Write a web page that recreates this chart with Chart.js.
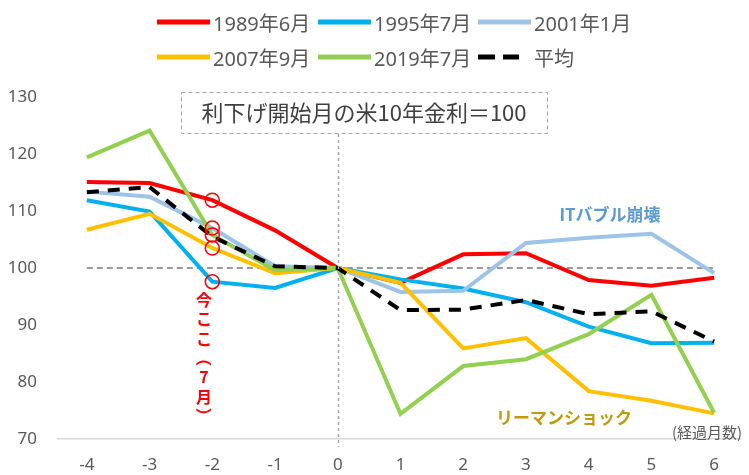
<!DOCTYPE html>
<html>
<head>
<meta charset="utf-8">
<script src="https://cdn.jsdelivr.net/npm/chart.js@4"></script>
<style>
  body { margin: 0; background: #fff; }
  #wrap { position: relative; width: 749px; height: 475px; overflow: hidden; }
  #chart { position: absolute; left: 0; top: 0; }
  #legend { position: absolute; left: 0; top: 0; width: 749px; height: 80px;
    font-family: "Noto Sans", "Noto Sans CJK JP", sans-serif; font-size: 20px; color: #595959; }
  .item { position: absolute; display: flex; align-items: center; height: 26px; white-space: nowrap; }
  .item svg { margin-right: 3px; }
</style>
</head>
<body>
<div id="wrap">
  <canvas id="chart" width="749" height="475"></canvas>
  <div id="legend"></div>
</div>
<script>
// months from the start of rate cuts
let months = [-4, -3, -2, -1, 0, 1, 2, 3, 4, 5, 6];
let xLabels = [-4, -3, -2, -1, 0, 1, 2, 3, 4, 5, 6];
let yLabels = [70, 80, 90, 100, 110, 120, 130];

let s1989 = [115.1, 114.9, 111.9, 106.6, 100, 97.4, 102.4, 102.6, 97.9, 96.9, 98.3];
let s1995 = [111.9, 109.9, 97.6, 96.5, 100, 98.0, 96.4, 94.0, 89.7, 86.8, 86.9];
let s2001 = [113.4, 112.5, 107.0, 100.3, 100, 95.8, 96.0, 104.4, 105.3, 106.0, 99.1];
let s2007 = [106.7, 109.5, 103.5, 99.1, 100, 97.4, 85.9, 87.7, 78.4, 76.7, 74.5];
let s2019 = [119.4, 124.1, 105.8, 99.6, 100, 74.4, 82.8, 84.0, 88.4, 95.3, 74.6];
let avg = [113.3, 114.2, 105.5, 100.3, 100, 92.6, 92.7, 94.4, 91.9, 92.4, 87.1];

let seriesNames = ["1989年6月", "1995年7月", "2001年1月", "2007年9月", "2019年7月", "平均"];
let seriesColors = ["#ff0000", "#00b0f0", "#9dc3e6", "#ffc000", "#92d050", "#000000"];
let seriesData = [s1989, s1995, s2001, s2007, s2019, avg];

// "now" marker month and which series get a circle
let nowMonth = -2;
let circled = [s1989, s1995, s2001, s2007, s2019];

function toPoints(arr) {
  return arr.map(function (v, i) {
    return { x: months[i], y: v };
  });
}

let datasets = [];
seriesData.forEach(function (arr, i) {
  datasets.push({
    label: seriesNames[i],
    data: toPoints(arr),
    borderColor: seriesColors[i],
    backgroundColor: seriesColors[i],
    borderWidth: 4,
    borderDash: i == 5 ? [12, 9] : [],
    pointRadius: 0,
    tension: 0,
    order: 10 - i,
  });
});

// base line at 100
datasets.push({
  label: "base",
  data: [{ x: months[0], y: 100 }, { x: months[months.length - 1], y: 100 }],
  borderColor: "#9a9a9a",
  borderWidth: 2,
  borderDash: [6, 4],
  pointRadius: 0,
  order: 20,
});

// red circles at the current month
let nowIdx = months.indexOf(nowMonth);
datasets.push({
  label: "now",
  data: circled.map(function (arr) {
    return { x: nowMonth, y: arr[nowIdx] };
  }),
  showLine: false,
  pointRadius: 7,
  pointBorderWidth: 1.5,
  pointBorderColor: "#ff0000",
  pointBackgroundColor: "rgba(0,0,0,0)",
  order: 0,
});

// legend (html)
let legend = document.getElementById("legend");
let colX = [157, 318, 478];
let rowY = [9, 44];
seriesNames.forEach(function (name, i) {
  let dash = i == 5 ? 'stroke-dasharray="17 8 16 100"' : "";
  let div = document.createElement("div");
  div.className = "item";
  div.style.left = colX[i % 3] + "px";
  div.style.top = rowY[Math.floor(i / 3)] + "px";
  div.innerHTML =
    '<svg width="53" height="6"><line x1="0" y1="3" x2="53" y2="3" stroke="' +
    seriesColors[i] + '" stroke-width="5" ' + dash + '/></svg><span>' + name + "</span>";
  legend.appendChild(div);
});

const notes = {
  id: "notes",
  afterDraw(chart) {
    let ctx = chart.ctx;
    let xs = chart.scales.x;
    let area = chart.chartArea;
    ctx.save();

    // title box
    ctx.strokeStyle = "#a6a6a6";
    ctx.lineWidth = 1;
    ctx.setLineDash([4, 3]);
    ctx.strokeRect(181.5, 92.5, 366, 41);

    // vertical dotted line at month 0
    let x0 = Math.round(xs.getPixelForValue(0)) + 0.5;
    ctx.lineWidth = 1.5;
    ctx.setLineDash([3, 3]);
    ctx.beginPath();
    ctx.moveTo(x0, 134);
    ctx.lineTo(x0, area.bottom + 8);
    ctx.stroke();
    ctx.setLineDash([]);

    ctx.textBaseline = "middle";
    ctx.textAlign = "center";
    ctx.fillStyle = "#404040";
    ctx.font = '22px "Noto Sans CJK JP"';
    ctx.fillText("利下げ開始月の米10年金利＝100", 364, 113);

    ctx.fillStyle = "#5b9bd5";
    ctx.font = 'bold 17px "Noto Sans CJK JP"';
    ctx.fillText("ITバブル崩壊", 610, 215);

    ctx.fillStyle = "#c49a0a";
    ctx.font = 'bold 17px "Noto Sans CJK JP"';
    ctx.fillText("リーマンショック", 564, 418);

    ctx.fillStyle = "#595959";
    ctx.textAlign = "left";
    ctx.font = '15px "Noto Sans CJK JP"';
    ctx.fillText("(経過月数)", 672, 432);

    // vertical "今ここ（7月）"
    ctx.textAlign = "center";
    ctx.fillStyle = "#ff0000";
    ctx.font = 'bold 16px "Noto Sans CJK JP"';
    let chars = ["今", "こ", "こ", "（", "7", "月", "）"];
    let cx = 204;
    chars.forEach(function (c, i) {
      let cy = 300 + i * 19.3;
      if (c == "（" || c == "）") {
        ctx.save();
        ctx.translate(cx, cy);
        ctx.rotate(Math.PI / 2);
        ctx.fillText(c, 0, 0);
        ctx.restore();
      } else {
        ctx.fillText(c, cx, cy);
      }
    });
    ctx.restore();
  },
};

const config = {
  type: "line",
  data: { datasets: datasets },
  options: {
    responsive: false,
    animation: false,
    devicePixelRatio: 1,
    layout: { padding: { top: 97, left: 0, right: 0, bottom: 0 } },
    plugins: { legend: { display: false }, tooltip: { enabled: false } },
    scales: {
      x: {
        type: "linear",
        min: -4.46,
        max: 6.42,
        afterBuildTicks: function (axis) {
          axis.ticks = xLabels.map(function (v) {
            return { value: v };
          });
        },
        afterFit: function (axis) {
          axis.height = 36;
        },
        grid: { display: false, drawTicks: false },
        border: { display: true, color: "#d9d9d9", width: 1.5 },
        ticks: {
          padding: 16,
          color: "#595959",
          font: { family: "Noto Sans", size: 17 },
          maxRotation: 0,
        },
      },
      y: {
        min: 70,
        max: 130,
        afterBuildTicks: function (axis) {
          axis.ticks = yLabels.map(function (v) {
            return { value: v };
          });
        },
        afterFit: function (axis) {
          axis.width = 58;
        },
        grid: { display: false, drawTicks: false },
        border: { display: false },
        ticks: {
          padding: 21,
          color: "#595959",
          font: { family: "Noto Sans", size: 17 },
        },
      },
    },
  },
  plugins: [notes],
};

const myChart = new Chart(document.getElementById("chart"), config);
</script>
</body>
</html>
